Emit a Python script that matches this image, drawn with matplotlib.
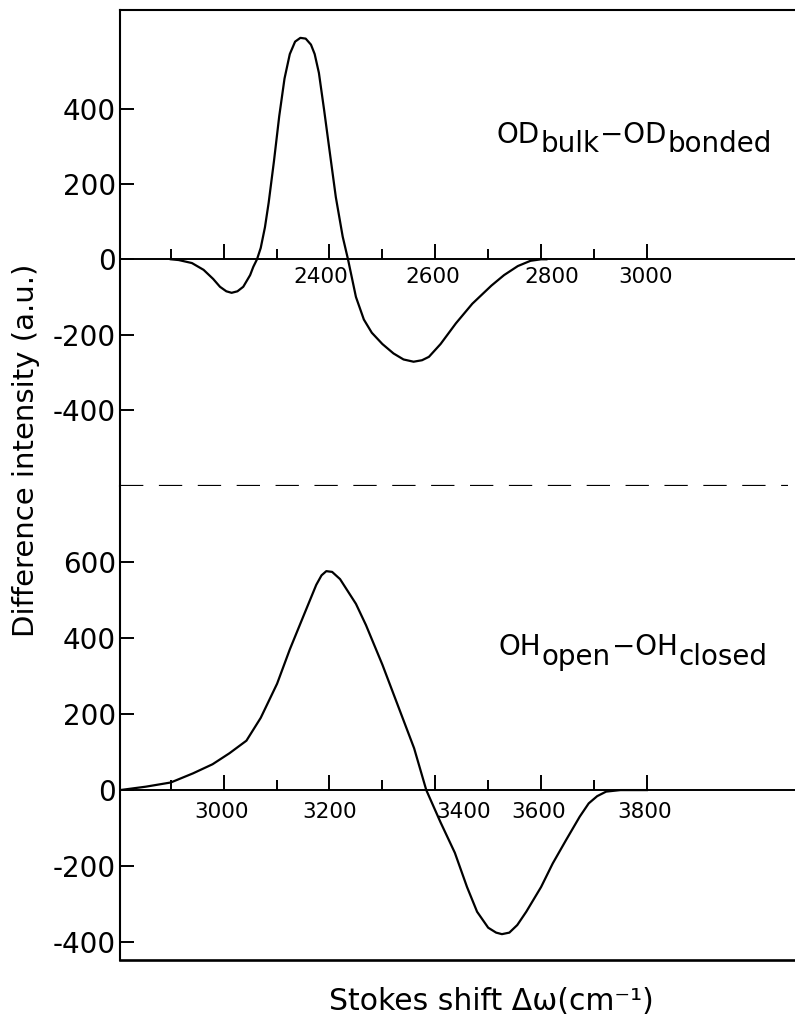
import matplotlib
matplotlib.use('Agg')
import matplotlib.pyplot as plt
import matplotlib.transforms as mtrans
import numpy as np

plt.rcParams['axes.unicode_minus'] = False

# OD difference spectrum (upper panel)
od_shift = [2100, 2115, 2140, 2162, 2180, 2193, 2205, 2215, 2226, 2237,
            2250, 2256, 2263, 2270, 2278, 2285, 2295, 2305, 2315, 2325,
            2335, 2345, 2355, 2365, 2372, 2380, 2390, 2400, 2412, 2425,
            2435, 2450, 2465, 2480, 2500, 2521, 2540, 2559, 2575, 2588,
            2610, 2639, 2670, 2706, 2730, 2756, 2780, 2800, 2810]
od_diff = [0, -2, -10, -28, -52, -73, -85, -89, -85, -73,
           -42, -20, 0, 30, 85, 150, 260, 380, 480, 545,
           578, 588, 586, 570, 545, 495, 395, 290, 165, 60,
           0, -100, -160, -195, -225, -250, -266, -272, -268, -259,
           -225, -170, -118, -70, -42, -18, -4, 0, 0]

# OH difference spectrum (lower panel)
oh_shift = [2804, 2853, 2900, 2942, 2979, 3011, 3043, 3070, 3101, 3125,
            3152, 3175, 3185, 3194, 3205, 3220, 3250, 3269, 3300, 3336,
            3360, 3383, 3410, 3437, 3460, 3479, 3500, 3515, 3526, 3540,
            3555, 3572, 3600, 3622, 3647, 3673, 3690, 3706, 3723, 3750,
            3800]
oh_diff = [0, 9, 20, 44, 68, 97, 130, 190, 280, 370,
           462, 540, 565, 576, 574, 555, 490, 434, 330, 198,
           110, 0, -85, -165, -255, -320, -362, -375, -379, -375,
           -355, -320, -255, -193, -132, -70, -35, -16, -4, 0,
           0]

top_yticks = [-400, -200, 0, 200, 400]
bot_yticks = [-400, -200, 0, 200, 400, 600]

top_major = [2200, 2400, 2600, 2800, 3000]
top_minor = [2100, 2300, 2500, 2700, 2900]
top_labels = ['2400', '2600', '2800', '3000']
bot_major = [3000, 3200, 3400, 3600, 3800]
bot_minor = [2900, 3100, 3300, 3500, 3700]
bot_labels = ['3000', '3200', '3400', '3600', '3800']


def zero_axis(ax, major, minor, labels, label_dx, label_dy):
    ax.axhline(0, color='k', lw=1.4)
    ax.plot(major, np.zeros(len(major)), ls='none', marker=2, ms=11, mew=1.4, color='k')
    ax.plot(minor, np.zeros(len(minor)), ls='none', marker=2, ms=7.5, mew=1.4, color='k')
    for lab, dx in zip(labels, label_dx):
        ax.annotate(lab, xy=(float(lab), 0), xytext=(dx, label_dy), textcoords='offset pixels',
                    ha='center', va='top', fontsize=15.5)


def chain_text(fig, x, y, parts, size):
    # place text pieces one after another, pixel coords from bottom-left
    renderer = fig.canvas.get_renderer()
    for s, dy in parts:
        t = fig.text(x, y + dy, s, transform=mtrans.IdentityTransform(),
                     fontsize=size, ha='left', va='baseline')
        x = t.get_window_extent(renderer).x1 + 1


fig = plt.figure(figsize=(7.95, 10.21), dpi=100)
ax_top = fig.add_axes([0.15094, 0.52400, 0.84906, 0.46621])
ax_bot = fig.add_axes([0.15094, 0.05975, 0.84906, 0.46425])

for ax in (ax_top, ax_bot):
    ax.set_xticks([])
    ax.tick_params(axis='y', direction='in', length=10, width=1.4, pad=3, labelsize=20)
    ax.spines['right'].set_visible(False)
    ax.spines['left'].set_linewidth(1.5)

ax_top.spines['bottom'].set_visible(False)
ax_top.spines['top'].set_linewidth(1.5)
ax_bot.spines['top'].set_visible(False)
ax_bot.spines['bottom'].set_linewidth(1.9)

# upper panel
ax_top.plot(od_shift, od_diff, color='k', lw=1.6)
ax_top.set_xlim(2004, 3280)
ax_top.set_ylim(-602, 662)
ax_top.set_yticks(top_yticks)
zero_axis(ax_top, top_major, top_minor, top_labels, [-9, -3, 11, -1], -8)
ax_top.plot([0, 0.99], [0, 0], transform=ax_top.transAxes, color='k', lw=1.6,
            dashes=(10.5, 7), clip_on=False)

# lower panel
ax_bot.plot(oh_shift, oh_diff, color='k', lw=1.6)
ax_bot.set_xlim(2804, 4080)
ax_bot.set_ylim(-447, 800)
ax_bot.set_yticks(bot_yticks)
zero_axis(ax_bot, bot_major, bot_minor, bot_labels, [-2, 0, 28, -2, -2], -12)

chain_text(fig, 496, 1021 - 143, [('OD', 0), ('bulk', -9), ('\u2212OD', 0), ('bonded', -9)], 20)
chain_text(fig, 498, 1021 - 655, [('OH', 0), ('open', -10), ('\u2212OH', 0), ('closed', -10)], 20)

fig.text(26 / 795, 1 - 450 / 1021, 'Difference intensity (a.u.)', rotation=90,
         ha='center', va='center', fontsize=21)
fig.text(491 / 795, 1 - 1001 / 1021, 'Stokes shift \u0394\u03c9(cm\u207b\u00b9)',
         ha='center', va='center', fontsize=21.5)

fig.savefig('out.png', dpi=100)
